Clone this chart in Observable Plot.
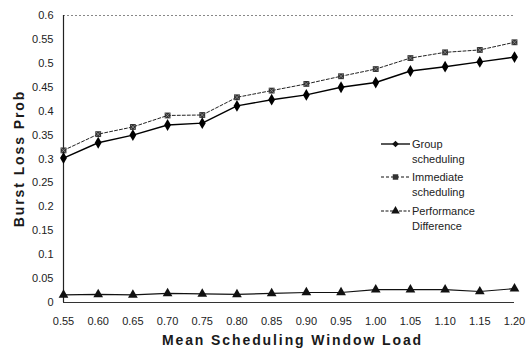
<!DOCTYPE html>
<html>
<head>
<meta charset="utf-8">
<script src="https://cdn.jsdelivr.net/npm/d3@7"></script>
<script src="https://cdn.jsdelivr.net/npm/@observablehq/plot@0.6"></script>
<style>
  body { margin: 0; background: white; }
  #chart { position: relative; width: 527px; height: 351px; }
  .axis-title { font-family: "Liberation Sans", Arial, sans-serif; font-weight: bold; font-size: 14px; letter-spacing: 1.9px; fill: #1a1a1a; }
  .legend-text { font-family: "Liberation Sans", Arial, sans-serif; font-size: 11px; fill: #222; text-anchor: start; }
</style>
</head>
<body>
<div id="chart"></div>
<script>
// ---- data ----
const loads = [0.55, 0.60, 0.65, 0.70, 0.75, 0.80, 0.85, 0.90, 0.95, 1.00, 1.05, 1.10, 1.15, 1.20];
const groupScheduling     = [0.302, 0.334, 0.350, 0.371, 0.375, 0.411, 0.424, 0.434, 0.450, 0.460, 0.484, 0.493, 0.503, 0.513];
const immediateScheduling = [0.318, 0.352, 0.367, 0.391, 0.392, 0.429, 0.443, 0.457, 0.473, 0.488, 0.511, 0.523, 0.528, 0.544];
const performanceDiff     = [0.016, 0.017, 0.016, 0.019, 0.018, 0.017, 0.019, 0.021, 0.021, 0.027, 0.027, 0.027, 0.023, 0.029];
const xTicks = [0.55, 0.60, 0.65, 0.70, 0.75, 0.80, 0.85, 0.90, 0.95, 1.00, 1.05, 1.10, 1.15, 1.20];
const yTicks = [0, 0.05, 0.1, 0.15, 0.2, 0.25, 0.3, 0.35, 0.4, 0.45, 0.5, 0.55, 0.6];
const seriesNames = ["Group scheduling", "Immediate scheduling", "Performance Difference"];
const xTitle = "Mean Scheduling Window Load";
const yTitle = "Burst Loss Prob";

const g = loads.map((x, i) => ({x, y: groupScheduling[i]}));
const im = loads.map((x, i) => ({x, y: immediateScheduling[i]}));
const pd = loads.map((x, i) => ({x, y: performanceDiff[i]}));

const W = 527, H = 351, mL = 63, mR = 13, mT = 15, mB = 49;

const chart = Plot.plot({
  width: W, height: H,
  marginLeft: mL, marginRight: mR, marginTop: mT, marginBottom: mB,
  style: { fontFamily: "Liberation Sans, Arial, sans-serif", fontSize: "11px", color: "#222", background: "white", overflow: "visible" },
  x: { domain: [0.55, 1.2] },
  y: { domain: [0, 0.6] },
  marks: [
    Plot.axisX({ ticks: xTicks, tickSize: 0, tickPadding: 15, tickFormat: d3.format(".2f"), label: null }),
    Plot.axisY({ ticks: yTicks, tickSize: 0, tickPadding: 10, tickFormat: d => String(d), label: null }),
    Plot.ruleY([0.6], { stroke: "#888", strokeDasharray: "2,2", strokeWidth: 1 }),
    Plot.ruleY([0], { stroke: "#333", strokeWidth: 1.2 }),
    Plot.ruleX([0.55], { stroke: "#222", strokeWidth: 1.2 }),
    // Performance difference
    Plot.line(pd, { x: "x", y: "y", stroke: "#111", strokeWidth: 1.1 }),
    Plot.dot(pd, { x: "x", y: "y", symbol: "triangle", r: 3.6, fill: "#111", stroke: "none" }),
    // Immediate scheduling
    Plot.line(im, { x: "x", y: "y", stroke: "#222", strokeWidth: 1, strokeDasharray: "3,2" }),
    Plot.dot(im, { x: "x", y: "y", symbol: "square", r: 3.3, fill: "#333", stroke: "none" }),
    Plot.dot(im, { x: "x", y: "y", symbol: "times", r: 2.2, stroke: "#999", strokeWidth: 0.7 }),
    // Group scheduling
    Plot.line(g, { x: "x", y: "y", stroke: "#000", strokeWidth: 1.4 }),
    Plot.dot(g, { x: "x", y: "y", symbol: "diamond", r: 3.6, fill: "#000", stroke: "none" })
  ]
});

document.getElementById("chart").appendChild(chart);

const svg = d3.select(chart);
const cx = (mL + (W - mR)) / 2;
const cy = (mT + (H - mB)) / 2;

// Axis titles
svg.append("text").attr("class", "axis-title")
  .attr("x", cx + 4).attr("y", 345).attr("text-anchor", "middle").text(xTitle);
svg.append("text").attr("class", "axis-title")
  .attr("transform", `translate(24,${cy}) rotate(-90)`)
  .attr("text-anchor", "middle").text(yTitle);

// Legend
const lg = svg.append("g").attr("text-anchor", "start");
const lx0 = 381, lx1 = 410, tx = 412;
const rows = [
  { y: 144, lines: ["Group", "scheduling"], dash: null, sym: d3.symbolSquare, rot: 45, size: 22 },
  { y: 177, lines: ["Immediate", "scheduling"], dash: "3,2", sym: d3.symbolSquare, rot: 0, size: 30 },
  { y: 211, lines: ["Performance", "Difference"], dash: "3,1.5", sym: d3.symbolTriangle, rot: 0, size: 32 }
];
rows.forEach((r, i) => {
  lg.append("line").attr("x1", lx0).attr("x2", lx1).attr("y1", r.y).attr("y2", r.y)
    .attr("stroke", "#111").attr("stroke-width", i === 0 ? 1.4 : 1)
    .attr("stroke-dasharray", r.dash);
  lg.append("path").attr("d", d3.symbol(r.sym, r.size)())
    .attr("transform", `translate(${(lx0 + lx1) / 2},${r.y}) rotate(${r.rot})`)
    .attr("fill", i === 1 ? "#333" : "#111");
  r.lines.forEach((t, j) => {
    lg.append("text").attr("class", "legend-text").attr("text-anchor", "start")
      .attr("x", tx).attr("y", r.y + j * 15 + 4).text(t);
  });
});
</script>
</body>
</html>
